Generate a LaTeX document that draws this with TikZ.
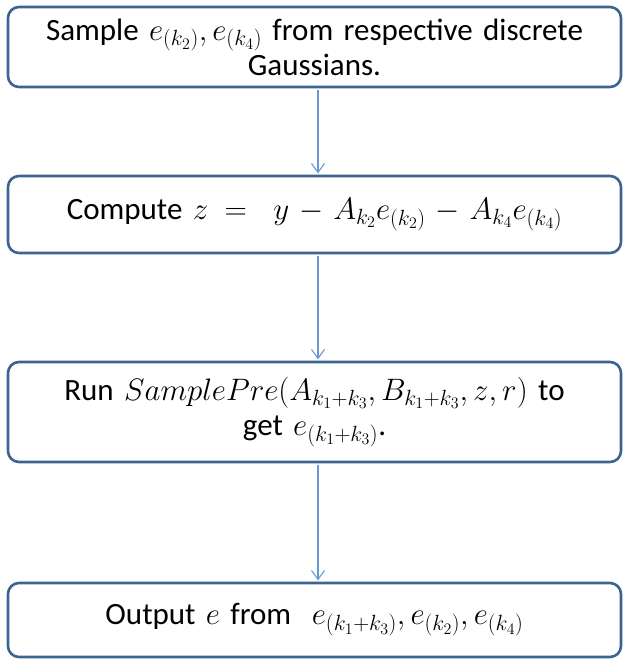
\RequirePackage{fix-cm}
\documentclass[tikz,border=0pt]{standalone}
\usepackage{fontspec}
\setmainfont{Carlito}
\usetikzlibrary{arrows.meta}
\DeclareMathSizes{31}{31}{22}{16}
\definecolor{boxline}{HTML}{3C6493}
\definecolor{arrowc}{HTML}{6A98D4}
\tikzset{
  stepbox/.style={draw=boxline, line width=2.6pt, rounded corners=11pt, fill=white,
    minimum width=613pt, text width=605pt, align=center, inner sep=0pt,
    font=\fontsize{31}{35}\selectfont},
  flow/.style={draw=arrowc, line width=1.1pt, -{Straight Barb[length=9pt,width=13pt,line width=1.1pt]}}
}
\begin{document}
\begin{tikzpicture}[x=1pt,y=1pt]
\useasboundingbox (0,0) rectangle (624,-659);
\node[stepbox, minimum height=80pt] (b1) at (314.5,-47) {Sample $e_{(k_2)}, e_{(k_4)}$ from respective discrete\\Gaussians.};
\node[stepbox, minimum height=77pt] (b2) at (314.5,-214.5) {Compute $z =\ y - A_{k_2}e_{(k_2)} - A_{k_4}e_{(k_4)}$};
\node[stepbox, minimum height=100pt] (b3) at (314.5,-412) {Run $SamplePre(A_{k_1+k_3}, B_{k_1+k_3}, z, r)$ to\\get $e_{(k_1+k_3)}$.};
\node[stepbox, minimum height=74pt] (b4) at (314.5,-620) {Output $e$ from\ \ $e_{(k_1+k_3)}, e_{(k_2)}, e_{(k_4)}$};
\draw[flow] ([xshift=3.5pt,yshift=-1.3pt]b1.south) -- ([xshift=3.5pt,yshift=1.3pt]b2.north);
\draw[flow] ([xshift=3.5pt,yshift=-1.3pt]b2.south) -- ([xshift=3.5pt,yshift=1.3pt]b3.north);
\draw[flow] ([xshift=3.5pt,yshift=-1.3pt]b3.south) -- ([xshift=3.5pt,yshift=1.3pt]b4.north);
\end{tikzpicture}
\end{document}
